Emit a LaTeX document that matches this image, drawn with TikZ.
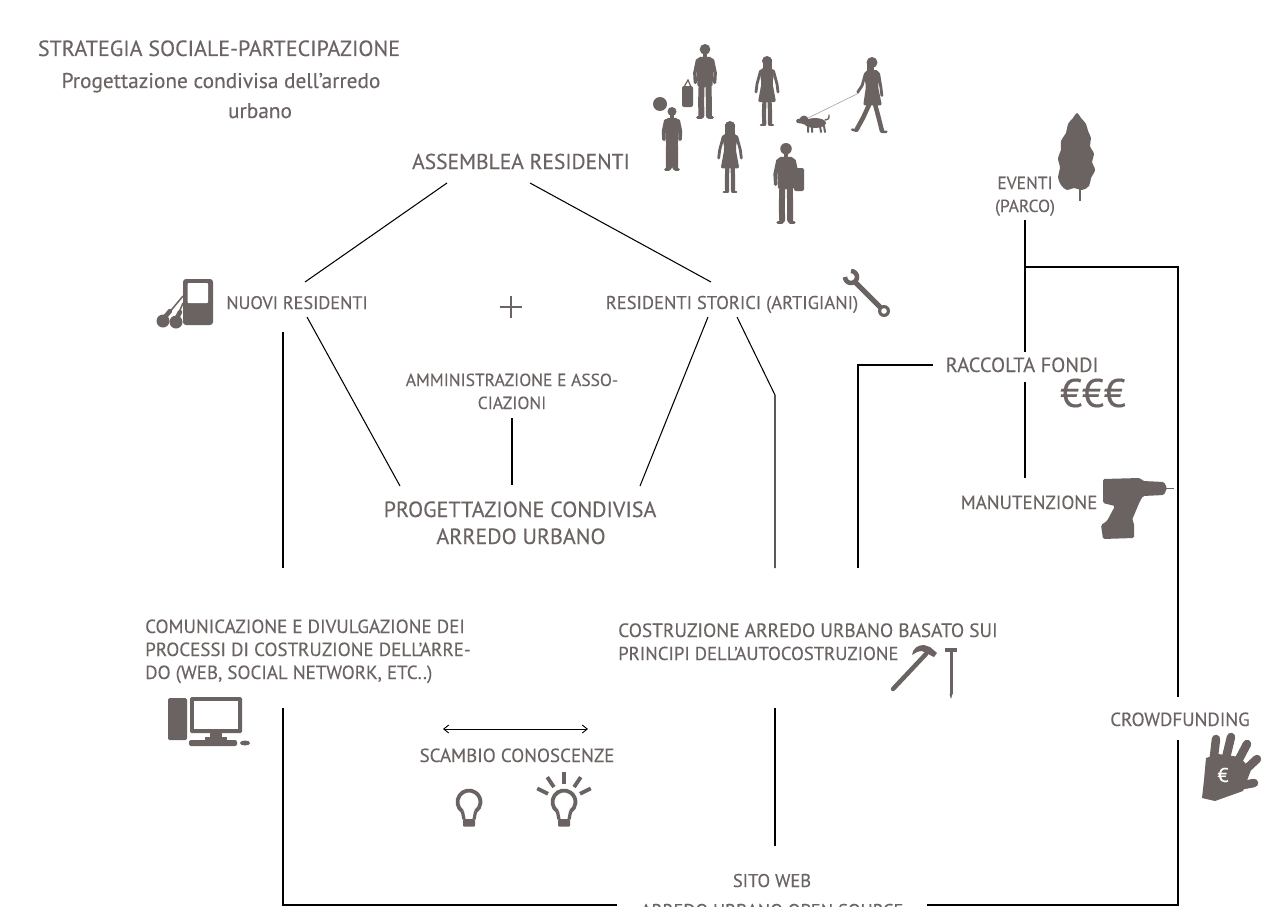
\documentclass[tikz,border=0pt]{standalone}
\usepackage{fontspec}
\setmainfont{PT Sans}[FakeBold=0.2]
\usetikzlibrary{arrows.meta}
\definecolor{txt}{HTML}{6B6463}
\definecolor{sil}{HTML}{6B6361}

% a standing man, head top at (#1,#2), scaled by #3
\newcommand\omino[3]{%
\begin{scope}[shift={(#1,#2)},scale=#3]
 \fill[sil] (0,5) circle[radius=5];
 \fill[sil] (-1.8,8) rectangle (1.8,13);
 \fill[sil,rounded corners=2] (-6.5,12) -- (6.5,12) -- (8,18) -- (7,40) -- (-7,40) -- (-8,18) -- cycle;
 \draw[sil,line width=3.4,line cap=round,line join=round] (-7,15) -- (-9.5,27) -- (-9,36) (7,15) -- (9.5,27) -- (9,36);
 \draw[sil,line width=6,line cap=round,line join=round] (-3.2,38) -- (-3.6,53) -- (-3.4,67) (3.2,38) -- (3.6,53) -- (3.6,67);
 \draw[sil,line width=3,line cap=round] (-3.4,69) -- (-7,69) (3.6,69) -- (7,69);
\end{scope}}

% a standing woman in a dress
\newcommand\donna[3]{%
\begin{scope}[shift={(#1,#2)},scale=#3]
 \fill[sil] (0,5) circle[radius=5];
 \fill[sil] (-4.5,3) rectangle (4.5,17);
 \fill[sil] (-1.6,8) rectangle (1.6,13);
 \fill[sil,rounded corners=2] (-6,12) -- (6,12) -- (7,18) -- (5.5,27) -- (9,46) -- (-9,46) -- (-5.5,27) -- (-7,18) -- cycle;
 \draw[sil,line width=2.8,line cap=round,line join=round] (-6.5,15) -- (-10,28) -- (-11,36) (6.5,15) -- (10,28) -- (11,36);
 \draw[sil,line width=4.2,line cap=round,line join=round] (-2.5,44) -- (-3,56) -- (-2.8,68) (2.5,44) -- (3,56) -- (3,68);
 \draw[sil,line width=2.6,line cap=round] (-2.8,69) -- (-6,69) (3,69) -- (6,69);
\end{scope}}

% a walking woman
\newcommand\passante[3]{%
\begin{scope}[shift={(#1,#2)},scale=#3]
 \fill[sil] (0,5) circle[radius=5];
 \fill[sil] (-5,4) rectangle (1,14);
 \fill[sil] (-1.6,8) rectangle (1.6,13);
 \fill[sil,rounded corners=2] (-6,12) -- (6,12) -- (7,18) -- (5.5,27) -- (9,44) -- (-8,44) -- (-5.5,27) -- (-7,18) -- cycle;
 \draw[sil,line width=2.8,line cap=round,line join=round] (-6,15) -- (-9,26) -- (-13,32) (6,15) -- (8,27) -- (9,35);
 \draw[sil,line width=4.5,line cap=round,line join=round] (-2,42) -- (-8,55) -- (-14,66) (2.5,42) -- (6,55) -- (9,67);
 \draw[sil,line width=2.6,line cap=round] (-14,67) -- (-18,66) (9,68) -- (13,68);
\end{scope}}

% light bulb outline centred on the glass at (#1,#2)
\newcommand\lampada[2]{%
 \draw[sil,line width=3.8] (#1,#2) ++(125:11.5) arc[start angle=125,end angle=415,radius=11.5];
 \draw[sil,line width=3.2] (#1,#2) ++(-6.6,9.4) -- ++(1.6,8) (#1,#2) ++(6.6,9.4) -- ++(-1.6,8);
 \fill[sil,rounded corners=1] (#1,#2) ++(-6,17) rectangle ++(12,7.5);
}

\begin{document}
\begin{tikzpicture}[x=1pt,y=-1pt,
  lbl/.style={text=txt,inner sep=0pt,anchor=base,font=\fontsize{19}{22}\selectfont},
  lblw/.style={lbl,anchor=base west},
  titolo/.style={lbl,font=\fontsize{22}{26}\selectfont},
  conn/.style={draw=black,line width=1.05pt}]
\useasboundingbox (0,0) rectangle (1261,907);
\clip (0,0) rectangle (1261,907);
\fill[white] (0,0) rectangle (1261,907);

% ---------- title ----------
\node[titolo] (tit1) at (219,56) {STRATEGIA SOCIALE-PARTECIPAZIONE};
\node[titolo,font=\fontsize{21.3}{26}\selectfont] (tit2) at (221,88) {Progettazione condivisa dell’arredo};
\node[titolo,font=\fontsize{21.3}{26}\selectfont] (tit3) at (260,118) {urbano};

% ---------- labels ----------
\node[lbl,font=\fontsize{21.5}{24}\selectfont] (assemblea) at (521,169) {ASSEMBLEA RESIDENTI};
\node[lbl,font=\fontsize{18.2}{22}\selectfont] (nuovi) at (297,309) {NUOVI RESIDENTI};
% plus sign between the two groups of residents
\coordinate (piu) at (511,307);
\draw[txt,line width=1.4pt] (piu) ++(-11,0) -- ++(22,0) (piu) ++(0,-11) -- ++(0,22);
\node[lbl,font=\fontsize{18.5}{22}\selectfont] (storici) at (732,309) {RESIDENTI STORICI (ARTIGIANI)};
\node[lbl,font=\fontsize{17.5}{22}\selectfont] (ammin1) at (512,386) {AMMINISTRAZIONE E ASSO-};
\node[lbl,font=\fontsize{17.5}{22}\selectfont] (ammin2) at (512,409) {CIAZIONI};
\node[lbl,font=\fontsize{22}{26}\selectfont] (prog1) at (520,517) {PROGETTAZIONE CONDIVISA};
\node[lbl,font=\fontsize{22}{26}\selectfont] (prog2) at (521,544) {ARREDO URBANO};
\node[lblw] (com1) at (145,633) {COMUNICAZIONE E DIVULGAZIONE DEI};
\node[lblw] (com2) at (145,656) {PROCESSI DI COSTRUZIONE DELL’ARRE-};
\node[lblw] (com3) at (145,679) {DO (WEB, SOCIAL NETWORK, ETC..)};
\node[lbl] (scambio) at (517,762) {SCAMBIO CONOSCENZE};
\node[lblw,font=\fontsize{19.3}{22}\selectfont] (cos1) at (618,637) {COSTRUZIONE ARREDO URBANO BASATO SUI};
\node[lblw,font=\fontsize{18.7}{22}\selectfont] (cos2) at (618,660) {PRINCIPI DELL’AUTOCOSTRUZIONE};
\node[lbl,font=\fontsize{18.5}{22}\selectfont] (sito1) at (772,887) {SITO WEB};
\node[lbl,font=\fontsize{18.5}{22}\selectfont] (sito2) at (772,917) {ARREDO URBANO OPEN SOURCE};
\node[lbl,font=\fontsize{17.5}{22}\selectfont] (eventi1) at (1025,189) {EVENTI};
\node[lbl,font=\fontsize{17.5}{22}\selectfont] (eventi2) at (1025,212) {(PARCO)};
\node[lbl,font=\fontsize{20.5}{22}\selectfont] (fondi) at (1022,372) {RACCOLTA FONDI};
\node[text=txt,inner sep=0pt,font=\fontsize{40}{40}\selectfont] (soldi) at (1093,393) {€€€};
\node[lbl] (manut) at (1029,509) {MANUTENZIONE};
\node[lbl] (crowd) at (1180,726) {CROWDFUNDING};

% ---------- connector end points ----------
\coordinate (asL) at (447,183);  \coordinate (nuT) at (305,282);
\coordinate (asR) at (530,183);  \coordinate (stT) at (711,282);
\coordinate (nuB) at (307,317);  \coordinate (prL) at (400,486);
\coordinate (stB) at (708,317);  \coordinate (prR) at (640,486);
\coordinate (amB) at (512,418);  \coordinate (prT) at (512,485);
\coordinate (nuV) at (283,332);  \coordinate (coT) at (283,568);
\coordinate (stC) at (737,317);  \coordinate (stK) at (775,395);  \coordinate (csT) at (775,568);
\coordinate (coB) at (283,708);  \coordinate (bl1) at (283,905);  \coordinate (bl2) at (617,905);
\coordinate (csB) at (775,708);  \coordinate (siT) at (775,846);
\coordinate (foL) at (933,365);  \coordinate (foK) at (858,365);  \coordinate (csR) at (858,568);
\coordinate (evB) at (1025,220); \coordinate (foT) at (1025,352);
\coordinate (foB) at (1025,382); \coordinate (maT) at (1025,478);
\coordinate (evJ) at (1025,267); \coordinate (evK) at (1178,267); \coordinate (crT) at (1178,697);
\coordinate (crB) at (1178,740); \coordinate (br1) at (1178,905); \coordinate (br2) at (927,905);
\coordinate (scL) at (443,729);  \coordinate (scR) at (588,729);

% ---------- connectors ----------
\draw[conn] (asL) -- (nuT);
\draw[conn] (asR) -- (stT);
\draw[conn] (nuB) -- (prL);
\draw[conn] (stB) -- (prR);
\draw[conn] (amB) -- (prT);
\draw[conn] (nuV) -- (coT);
\draw[conn] (stC) -- (stK) -- (csT);
\draw[conn] (coB) -- (bl1) -- (bl2);
\draw[conn] (csB) -- (siT);
\draw[conn] (foL) -- (foK) -- (csR);
\draw[conn] (evB) -- (foT);
\draw[conn] (foB) -- (maT);
\draw[conn] (evJ) -- (evK) -- (crT);
\draw[conn] (crB) -- (br1) -- (br2);
\draw[line width=0.9pt,{Straight Barb[length=5pt,width=8pt]}-{Straight Barb[length=5pt,width=8pt]}] (scL) -- (scR);

% ---------- people ----------
\omino{705}{44}{1.07}
\fill[sil,rounded corners=2] (682,86) rectangle (693,107);
\draw[sil,line width=1.2] (684,87) -- (688,80) -- (691,87);
\donna{767}{56}{1.0}
\fill[sil] (660,104) circle[radius=7];
\omino{672}{107}{0.9}
\passante{872}{57}{1.1}
\donna{730}{121}{1.03}
\omino{786}{143}{1.15}
\fill[sil,rounded corners=2] (794,168) rectangle (804,191);
% dog on the leash
\draw[sil!60,line width=0.6] (808,118) -- (859,93);
\fill[sil] (815,123) ellipse[x radius=11,y radius=5];
\fill[sil] (804,120) circle[radius=4.5];
\fill[sil] (800,121) ellipse[x radius=4,y radius=2.5];
\draw[sil,line width=2,line cap=round] (808,126) -- (808,132) (812,126) -- (812,132) (820,126) -- (821,132) (824,126) -- (825,132);
\draw[sil,line width=1.4,line cap=round] (825,120) .. controls (829,119) .. (829,115);

% ---------- icons ----------
% music player with earphones
\fill[sil,rounded corners=3] (183,279) rectangle (213,325);
\fill[white,rounded corners=1] (187.5,283) rectangle (208,303);
\draw[sil,line width=1.5] (168,314) -- (183,296) (178,315) -- (183,303);
\draw[sil,line width=4.5,line cap=round] (165,317) -- (170,311) (177,318) -- (180,312);
\fill[sil] (163,321) circle[radius=6.5];
\fill[sil] (176,322) circle[radius=6.5];

% wrench
\draw[sil,line width=5,line cap=round] (855,282) -- (881,308);
\fill[sil] (884,311) circle[radius=6];
\fill[white] (884,311) circle[radius=2.8];
\draw[sil,line width=4.5] (851,277) ++(-180:6) arc[start angle=-180,end angle=-450,radius=6];

% computer
\fill[sil,rounded corners=1.5] (168,698) rectangle (187,740);
\fill[sil,rounded corners=1.5] (190,697) rectangle (242,733);
\fill[white] (194,701) rectangle (238,729);
\fill[sil] (210,733) rectangle (222,738);
\fill[sil] (205,737) rectangle (227,740);
\fill[sil,rounded corners=2] (189,740) rectangle (237,746);
\fill[sil] (245,743) ellipse[x radius=5,y radius=2.5];

% bulbs
\lampada{469}{802}
\lampada{564}{802}
\foreach \v in {27,56,90,124,153}
  \draw[sil,line width=3.8] (564,802) ++(-\v:18) -- ++(-\v:12);

% hammer and screw
\draw[sil,line width=4.5,line cap=round] (926,654) -- (893,689);
\fill[sil] (912,655) .. controls (913,648) and (918,645) .. (924,645) -- (930,647) -- (937,653) -- (934,657) -- (928,654) -- (922,651) .. controls (918,651) and (915,653) .. (912,655) -- cycle;
\fill[sil] (945,648) rectangle (957,652);
\draw[sil,line width=3] (951,652) -- (951,694);
\fill[sil] (949.5,694) -- (952.5,694) -- (951,699) -- cycle;

% drill
\fill[sil,rounded corners=1.5] (1103,479) -- (1140,478) -- (1143,481) -- (1164,482) -- (1167,488) -- (1164,495) -- (1143,496) -- (1140,501) -- (1132,520) -- (1134,523) -- (1134,538) -- (1103,539) -- (1101,525) -- (1107,521) -- (1115,506) -- (1103,503) -- cycle;
\draw[sil,line width=1] (1166,488) -- (1174,488);

% tree
\fill[sil] plot[smooth cycle,tension=0.6] coordinates {(1077,113) (1081,118) (1086,124) (1088,131) (1091,138) (1090,146) (1094,154) (1092,162) (1095,170) (1091,178) (1089,186) (1082,190) (1074,188) (1067,190) (1061,185) (1058,177) (1060,168) (1058,158) (1061,150) (1061,141) (1066,133) (1068,124) (1073,118)};
\draw[sil,line width=1.5] (1080,170) -- (1080,201);

% hand with coin sign
\fill[sil] (1206,758) -- (1218,754) -- (1240,757) -- (1251,770) -- (1243,791) -- (1215,801) -- (1202,798) -- (1204,780) -- cycle;
\draw[sil,line width=8.5,line cap=round] (1213,765) -- (1216,739) (1225,762) -- (1231,737) (1236,765) -- (1247,744) (1243,772) -- (1257,759) (1238,786) -- (1254,783);
\node[text=white,inner sep=0pt,font=\fontsize{20}{20}\selectfont] (eurohand) at (1223,775) {€};

\end{tikzpicture}
\end{document}
